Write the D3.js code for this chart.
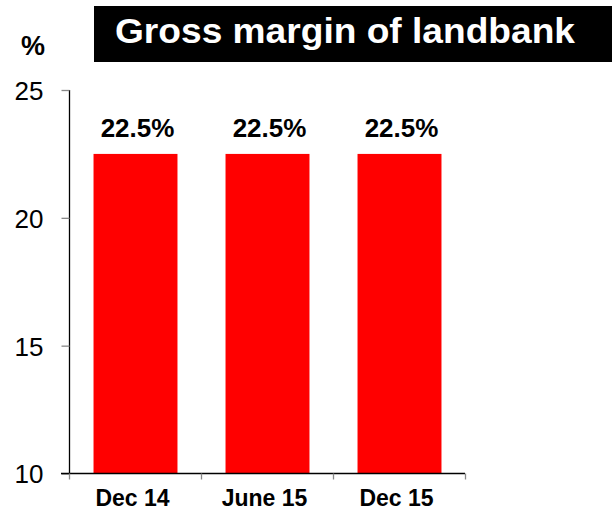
<!DOCTYPE html>
<html>
<head>
<meta charset="utf-8">
<script src="https://cdn.jsdelivr.net/npm/d3@7"></script>
<style>
  html, body { margin: 0; padding: 0; background: #fff; }
  svg { display: block; font-family: "Liberation Sans", Arial, sans-serif; }
</style>
</head>
<body>
<svg id="chart" width="614" height="511"></svg>
<script>
// Gross margin of landbank, by reporting period (%)
const categories = ["Dec 14", "June 15", "Dec 15"];
const values = [22.5, 22.5, 22.5];
const yTicks = [10, 15, 20, 25];
const title = "Gross margin of landbank";
const unit = "%";

const svg = d3.select("#chart");

const x = d3.scaleBand()
  .domain(categories)
  .range([69.5, 465.5])
  .paddingInner(0.364)
  .paddingOuter(0.182);

const y = d3.scaleLinear()
  .domain([10, 25])
  .range([473.5, 90]);

// Title banner
svg.append("rect")
  .attr("x", 94).attr("y", 6)
  .attr("width", 518).attr("height", 56)
  .attr("fill", "#000");
svg.append("text")
  .attr("x", 115).attr("y", 43)
  .attr("fill", "#fff")
  .attr("font-size", 35)
  .attr("font-weight", "bold")
  .attr("textLength", 460)
  .attr("lengthAdjust", "spacingAndGlyphs")
  .text(title);

// Unit label
svg.append("text")
  .attr("x", 33).attr("y", 55)
  .attr("text-anchor", "middle")
  .attr("font-size", 27)
  .attr("font-weight", "bold")
  .text(unit);

// Bars
svg.append("g").selectAll("rect")
  .data(values)
  .join("rect")
  .attr("x", (d, i) => x(categories[i]))
  .attr("y", d => y(d))
  .attr("width", x.bandwidth())
  .attr("height", d => y(10) - y(d))
  .attr("fill", "#ff0000");

// Value labels
svg.append("g").selectAll("text")
  .data(values)
  .join("text")
  .attr("x", (d, i) => x(categories[i]) + x.bandwidth() / 2 + 2)
  .attr("y", d => y(d) - 17)
  .attr("text-anchor", "middle")
  .attr("font-size", 26)
  .attr("font-weight", "bold")
  .text(d => d.toFixed(1) + "%");

// Y axis
const yAxis = svg.append("g")
  .attr("transform", "translate(69.5,0)")
  .call(d3.axisLeft(y).tickValues(yTicks).tickSize(8).tickPadding(18).tickFormat(d3.format("d")));
yAxis.select(".domain").attr("stroke", "#000").attr("stroke-width", 1.3).attr("d", `M0,${y(25)}V${y(10)}`);
yAxis.selectAll(".tick line").attr("stroke", "#888").attr("stroke-width", 1.3);
yAxis.selectAll(".tick text")
  .attr("font-size", 26)
  .attr("font-family", "Liberation Sans, Arial, sans-serif")
  .attr("fill", "#000")
  .attr("dy", "0.36em");

// X axis
const xAxis = svg.append("g")
  .attr("transform", `translate(0,${y(10)})`)
  .call(d3.axisBottom(x).tickSize(0).tickPadding(16));
xAxis.select(".domain").attr("stroke", "#000").attr("stroke-width", 1.3).attr("d", "M61,0H465");
xAxis.selectAll(".tick text")
  .attr("font-size", 23)
  .attr("font-weight", "bold")
  .attr("font-family", "Liberation Sans, Arial, sans-serif")
  .attr("fill", "#000")
  .attr("dx", -3)
  .attr("dy", "0.71em");

// Category separators below the x axis
const step = x.step();
const sepX = d3.range(categories.length + 1).map(i => 69.5 + i * step);
svg.append("g").selectAll("line")
  .data(sepX)
  .join("line")
  .attr("x1", d => d).attr("x2", d => d)
  .attr("y1", y(10)).attr("y2", y(10) + 6)
  .attr("stroke", "#888").attr("stroke-width", 1.3);
</script>
</body>
</html>
